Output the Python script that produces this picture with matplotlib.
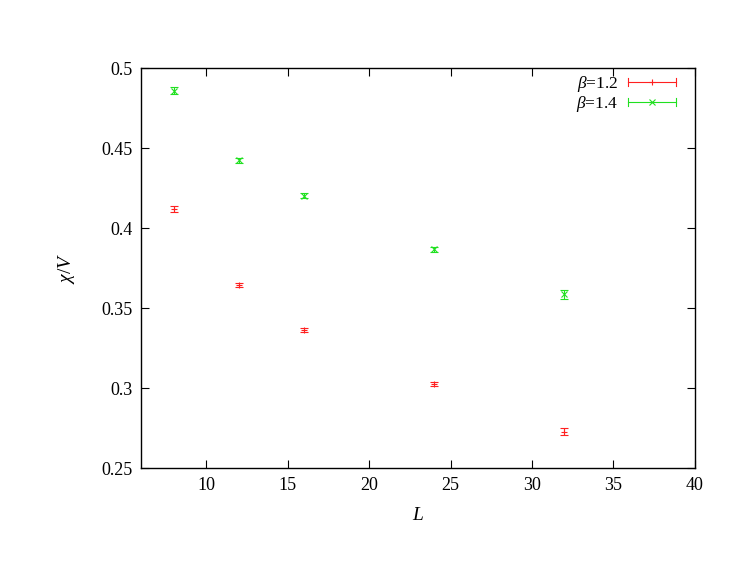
import numpy as np
import matplotlib.pyplot as plt
from matplotlib.legend_handler import HandlerBase
from matplotlib.lines import Line2D

plt.rcParams['font.family'] = ['Liberation Serif', 'DejaVu Serif']
plt.rcParams['mathtext.fontset'] = 'custom'
plt.rcParams['mathtext.it'] = 'Liberation Serif:italic'
plt.rcParams['mathtext.rm'] = 'Liberation Serif'

L = [8, 12, 16, 24, 32]
chi_12 = [0.4120, 0.3646, 0.3365, 0.3027, 0.2727]
err_12 = [0.0018, 0.0014, 0.0012, 0.0012, 0.0022]
chi_14 = [0.4860, 0.4425, 0.4203, 0.3868, 0.3587]
err_14 = [0.0020, 0.0016, 0.0016, 0.0014, 0.0028]

red = '#ff2020'
green = '#20e020'


class GnuplotErrHandler(HandlerBase):
    # horizontal line with end caps and the point marker in the middle
    def create_artists(self, legend, orig, xd, yd, width, height, fontsize, trans):
        c = orig.get_color()
        m = orig.get_marker()
        y = yd + height / 2
        cap = height * 0.3
        arts = [Line2D([xd, xd + width], [y, y], color=c, lw=0.8),
                Line2D([xd, xd], [y - cap, y + cap], color=c, lw=0.8),
                Line2D([xd + width, xd + width], [y - cap, y + cap], color=c, lw=0.8),
                Line2D([xd + width / 2], [y], color=c, marker=m, ms=5, mew=0.8, ls='none')]
        for a in arts:
            a.set_transform(trans)
        return arts


fig = plt.figure(figsize=(7.47, 5.78), dpi=100)
ax = fig.add_axes([0.189, 0.190, 0.741, 0.692])

ax.errorbar(L, chi_12, yerr=err_12, fmt='+', color=red, ms=5, mew=0.8,
            elinewidth=0.8, capsize=3)
ax.errorbar(L, chi_14, yerr=err_14, fmt='x', color=green, ms=4, mew=0.8,
            elinewidth=0.8, capsize=3)

ax.set_xlim(6, 40)
ax.set_ylim(0.25, 0.5)
ax.set_xticks(np.arange(10, 41, 5))
ax.set_yticks([0.25, 0.3, 0.35, 0.4, 0.45, 0.5])
ax.set_yticklabels(['0.25', '0.3', '0.35', '0.4', '0.45', '0.5'])
ax.tick_params(direction='in', top=True, right=True, labelsize=13, length=6, pad=6)
ax.set_xlabel(r'$L$', fontsize=14, labelpad=10)
ax.set_ylabel(r'$\chi/V$', fontsize=14, labelpad=18)
for s in ax.spines.values():
    s.set_linewidth(1.0)

h12 = Line2D([], [], color=red, marker='+')
h14 = Line2D([], [], color=green, marker='x')
ax.legend([h12, h14], [r'$\beta$=1.2', r'$\beta$=1.4'], loc='upper right',
          bbox_to_anchor=(0.967, 0.985), frameon=False, markerfirst=False,
          fontsize=12.5, handlelength=2.8, handletextpad=0.55, borderpad=0,
          borderaxespad=0, labelspacing=0.0,
          handler_map={Line2D: GnuplotErrHandler()})

fig.savefig('out.png', dpi=100)
